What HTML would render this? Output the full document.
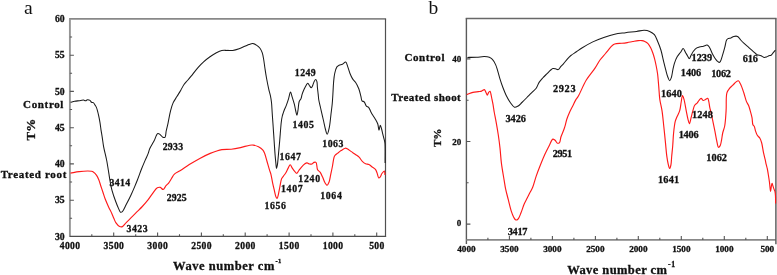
<!DOCTYPE html>
<html><head><meta charset="utf-8"><title>FTIR spectra</title>
<style>html,body{margin:0;padding:0;background:#fff;}body{width:777px;height:275px;overflow:hidden;}svg{display:block;will-change:transform;}</style>
</head><body>
<svg width="777" height="275" viewBox="0 0 777 275">
<rect width="100%" height="100%" fill="#fff"/>
<line x1="69.10000000000001" y1="18.9" x2="386.1" y2="18.9" stroke="#888" stroke-width="1.7"/>
<line x1="69.9" y1="18.9" x2="69.9" y2="237.0" stroke="#959595" stroke-width="1.9"/>
<line x1="69.9" y1="236.4" x2="386.1" y2="236.4" stroke="#4d4d4d" stroke-width="1.3"/>
<line x1="385.5" y1="18.9" x2="385.5" y2="237.0" stroke="#505050" stroke-width="1.2"/>
<path d="M69.9,218.3h2.2 M69.9,200.2h4.0 M69.9,182.0h2.2 M69.9,163.9h4.0 M69.9,145.8h2.2 M69.9,127.7h4.0 M69.9,109.5h2.2 M69.9,91.4h4.0 M69.9,73.3h2.2 M69.9,55.2h4.0 M69.9,37.0h2.2 M376.7,236.4v-4.0 M354.8,236.4v-2.2 M332.9,236.4v-4.0 M311.0,236.4v-2.2 M289.1,236.4v-4.0 M267.1,236.4v-2.2 M245.2,236.4v-4.0 M223.3,236.4v-2.2 M201.4,236.4v-4.0 M179.5,236.4v-2.2 M157.6,236.4v-4.0 M135.7,236.4v-2.2 M113.7,236.4v-4.0 M91.8,236.4v-2.2" stroke="#555" stroke-width="1.1" fill="none"/>
<line x1="465.7" y1="18.4" x2="776.6" y2="18.4" stroke="#686868" stroke-width="1.5"/>
<line x1="466.4" y1="18.4" x2="466.4" y2="244.0" stroke="#5a5a5a" stroke-width="1.4"/>
<line x1="466.4" y1="239.9" x2="775.9" y2="239.9" stroke="#888" stroke-width="1.8"/>
<line x1="775.9" y1="18.4" x2="775.9" y2="244.2" stroke="#555" stroke-width="1.4"/>
<path d="M466.4,224.1h4.0 M466.4,182.8h2.2 M466.4,141.5h4.0 M466.4,100.2h2.2 M466.4,58.9h4.0 M767.3,239.9v-4.0 M745.8,239.9v-2.2 M724.3,239.9v-4.0 M702.8,239.9v-2.2 M681.3,239.9v-4.0 M659.8,239.9v-2.2 M638.3,239.9v-4.0 M616.9,239.9v-2.2 M595.4,239.9v-4.0 M573.9,239.9v-2.2 M552.4,239.9v-4.0 M530.9,239.9v-2.2 M509.4,239.9v-4.0 M487.9,239.9v-2.2" stroke="#555" stroke-width="1.1" fill="none"/>
<path d="M70.50,173.10C73.37,172.60 76.22,171.95 79.10,171.60C81.98,171.25 85.51,170.99 87.80,171.00C89.29,171.01 90.50,171.07 91.50,171.30C92.22,171.47 92.66,171.58 93.30,172.00C94.30,172.65 95.69,174.04 96.60,175.30C97.53,176.60 98.13,178.06 98.80,179.70C99.59,181.63 100.18,184.04 100.90,186.20C101.62,188.37 102.37,190.52 103.10,192.70C103.84,194.89 104.44,197.04 105.30,199.30C106.24,201.76 107.48,204.47 108.60,206.90C109.65,209.19 110.88,211.48 111.80,213.50C112.57,215.19 113.12,216.66 113.80,218.20C114.46,219.69 114.87,221.26 115.80,222.60C116.78,224.01 118.32,225.82 119.60,226.40C120.53,226.82 121.48,226.96 122.40,226.60C123.69,226.10 124.86,223.98 126.20,222.60C127.67,221.09 129.26,219.54 130.90,217.90C132.71,216.09 134.70,214.10 136.60,212.20C138.50,210.30 140.44,208.51 142.30,206.50C144.24,204.41 146.24,202.14 148.00,199.90C149.70,197.74 151.10,195.37 152.70,193.30C154.20,191.35 155.76,188.65 157.30,187.80C158.30,187.25 159.36,187.16 160.30,187.40C161.31,187.66 162.22,189.62 163.10,189.50C164.13,189.36 165.01,186.86 166.00,185.70C166.91,184.64 167.93,183.91 168.80,182.80C169.78,181.55 170.57,179.93 171.50,178.50C172.44,177.06 173.11,175.43 174.40,174.20C175.85,172.81 177.91,172.13 180.00,170.80C182.73,169.07 186.08,166.62 189.30,164.60C192.67,162.49 196.27,160.29 199.80,158.40C203.24,156.56 207.21,154.68 210.20,153.40C212.39,152.46 214.04,151.83 216.00,151.20C217.94,150.57 219.69,149.94 221.90,149.60C224.63,149.18 228.11,149.53 231.20,149.20C234.31,148.87 237.41,148.26 240.50,147.60C243.61,146.93 247.43,145.54 249.80,145.20C251.23,145.00 252.04,144.92 253.30,145.10C254.88,145.33 256.92,145.98 258.50,146.80C260.04,147.60 261.67,148.75 262.70,149.90C263.55,150.85 263.93,151.68 264.50,153.00C265.37,155.01 266.10,158.28 266.90,161.00C267.73,163.84 268.64,167.22 269.40,169.70C269.97,171.57 270.52,172.74 271.00,174.60C271.61,176.97 272.04,180.14 272.60,182.80C273.14,185.33 273.73,187.82 274.30,190.20C274.83,192.44 275.25,195.27 275.90,196.70C276.26,197.50 276.74,198.46 277.10,198.40C277.62,198.32 277.99,195.92 278.40,194.30C278.97,192.05 279.45,188.76 280.00,186.10C280.52,183.57 280.84,180.44 281.60,178.70C282.08,177.62 282.68,177.16 283.30,176.30C284.03,175.29 284.94,174.24 285.70,173.00C286.58,171.56 287.39,169.56 288.20,168.10C288.88,166.88 289.52,164.81 290.20,164.80C290.89,164.79 291.56,167.01 292.30,168.10C293.06,169.21 293.89,170.48 294.70,171.40C295.36,172.16 296.05,173.35 296.70,173.30C297.43,173.24 298.06,171.46 298.80,170.50C299.59,169.47 300.37,168.35 301.30,167.30C302.29,166.18 303.52,164.75 304.60,164.00C305.41,163.44 306.19,162.91 307.00,162.90C307.82,162.89 308.66,163.82 309.50,164.00C310.29,164.17 311.16,164.25 311.90,164.00C312.67,163.74 313.26,162.65 314.00,162.40C314.64,162.18 315.47,161.97 316.00,162.40C317.03,163.23 316.66,167.99 317.60,169.70C318.24,170.88 319.34,171.15 320.10,172.20C321.05,173.50 321.80,175.39 322.60,177.10C323.44,178.91 324.11,181.34 325.00,182.80C325.65,183.86 326.44,185.35 327.10,185.30C327.82,185.24 328.55,183.38 329.10,182.00C329.87,180.07 330.16,177.12 330.70,174.60C331.26,171.96 331.86,169.28 332.40,166.50C332.97,163.58 333.41,159.40 334.00,157.50C334.29,156.57 334.41,156.14 334.90,155.50C335.54,154.66 336.79,153.90 337.80,153.10C338.86,152.26 339.92,151.39 341.10,150.60C342.37,149.75 343.99,148.33 345.20,148.20C346.08,148.11 346.77,148.57 347.60,149.00C348.65,149.54 349.68,150.55 350.90,151.40C352.36,152.42 354.34,153.66 355.80,154.70C357.02,155.57 358.07,156.18 359.10,157.20C360.25,158.34 361.14,160.18 362.30,161.30C363.33,162.29 364.44,163.17 365.60,163.70C366.65,164.19 367.86,164.00 368.90,164.50C370.04,165.05 371.02,166.18 372.10,167.00C373.18,167.82 374.58,168.42 375.40,169.40C376.18,170.33 376.50,171.46 377.00,172.70C377.61,174.22 377.93,177.64 378.70,177.90C379.16,178.06 379.83,177.35 380.30,176.80C380.95,176.05 381.20,174.46 381.90,173.50C382.58,172.57 383.88,170.92 384.40,171.10C384.96,171.29 384.80,173.70 385.00,175.00" fill="none" stroke="#ff1a1a" stroke-width="1.15" stroke-linejoin="round"/>
<path d="M70.50,102.20C71.90,101.90 73.28,101.55 74.70,101.30C76.14,101.05 77.63,100.90 79.10,100.70C80.57,100.50 82.31,99.99 83.50,100.10C84.34,100.18 84.93,100.87 85.60,100.80C86.27,100.73 86.80,99.79 87.50,99.70C88.26,99.60 89.33,99.95 90.00,100.40C90.65,100.83 90.90,101.94 91.50,102.30C92.02,102.61 92.76,102.26 93.30,102.60C94.00,103.04 94.56,104.25 95.10,105.10C95.62,105.92 96.05,106.50 96.50,107.60C97.25,109.43 98.01,112.76 98.60,115.30C99.17,117.75 99.60,120.17 100.00,122.60C100.40,125.00 100.64,127.39 101.00,129.80C101.37,132.23 101.80,134.50 102.20,137.10C102.66,140.06 102.97,143.17 103.60,146.60C104.36,150.70 105.73,155.55 106.60,160.00C107.46,164.38 108.20,169.43 108.80,173.10C109.24,175.76 109.44,177.47 109.90,180.00C110.46,183.12 111.06,186.88 112.00,190.40C113.00,194.14 114.57,198.51 115.80,201.80C116.76,204.38 117.71,206.71 118.60,208.60C119.26,210.01 119.71,211.87 120.50,212.20C121.06,212.43 121.77,212.12 122.40,211.60C123.67,210.56 124.89,207.12 126.20,204.60C127.71,201.71 129.45,198.28 130.90,195.20C132.27,192.29 133.56,189.28 134.70,186.60C135.69,184.26 136.42,182.50 137.40,180.00C138.67,176.77 140.19,172.35 141.60,168.80C142.89,165.54 144.31,162.27 145.50,159.50C146.47,157.25 147.47,155.31 148.20,153.40C148.82,151.78 148.96,150.49 149.70,148.80C150.70,146.52 152.64,143.67 154.00,141.10C155.34,138.57 156.40,133.97 157.80,133.50C158.62,133.23 159.59,134.21 160.40,134.80C161.30,135.45 162.02,136.94 162.90,137.30C163.57,137.58 164.47,137.74 165.00,137.30C165.92,136.54 165.73,133.20 166.20,131.00C166.72,128.56 167.37,126.19 168.00,123.30C168.81,119.60 169.63,114.28 170.60,110.60C171.37,107.69 172.01,105.28 173.10,102.90C174.14,100.63 175.62,98.71 176.90,96.60C178.19,94.47 179.58,92.28 180.80,90.20C181.94,88.26 182.81,86.18 184.00,84.50C185.07,82.99 186.35,81.85 187.50,80.50C188.65,79.15 189.56,78.04 190.90,76.40C192.88,73.97 195.89,69.90 198.20,67.30C200.08,65.18 201.67,63.54 203.60,61.80C205.59,60.00 207.82,58.24 210.00,56.70C212.09,55.22 214.31,53.77 216.40,52.70C218.24,51.76 219.96,50.88 221.80,50.50C223.59,50.13 225.48,50.42 227.30,50.40C229.11,50.38 230.84,50.64 232.70,50.40C234.76,50.13 236.99,49.42 239.10,48.70C241.26,47.96 243.67,46.77 245.50,46.00C246.87,45.43 247.88,44.90 249.10,44.50C250.29,44.11 251.51,43.52 252.70,43.60C253.94,43.69 255.23,44.39 256.40,45.10C257.68,45.88 259.04,46.96 260.00,48.20C260.99,49.48 261.62,51.04 262.20,52.70C262.86,54.59 263.18,56.70 263.60,59.00C264.10,61.72 264.43,64.92 264.90,68.00C265.39,71.25 265.87,74.54 266.50,78.00C267.19,81.78 268.15,86.57 268.90,89.80C269.43,92.08 269.98,93.57 270.40,95.60C270.86,97.79 271.21,99.95 271.50,102.50C271.85,105.63 271.96,109.44 272.20,113.00C272.45,116.70 272.71,120.11 273.00,124.30C273.36,129.54 273.83,136.55 274.20,142.00C274.52,146.67 274.78,151.13 275.10,155.00C275.36,158.13 275.64,161.06 275.90,163.50C276.10,165.36 276.22,168.38 276.50,168.40C276.72,168.42 277.06,166.78 277.30,165.50C277.75,163.10 278.03,158.77 278.40,155.00C278.83,150.60 279.25,145.79 279.70,140.70C280.21,134.88 280.73,126.50 281.30,122.00C281.62,119.44 281.91,117.63 282.30,116.00C282.57,114.85 282.88,114.06 283.20,113.10C283.52,112.13 283.78,111.29 284.20,110.20C284.77,108.73 285.70,106.92 286.40,105.10C287.18,103.08 287.92,100.78 288.60,98.60C289.28,96.42 289.86,92.01 290.50,92.00C291.06,91.99 291.61,95.24 292.20,97.10C292.90,99.31 293.78,101.95 294.40,104.40C295.01,106.82 295.42,109.70 295.90,111.70C296.24,113.12 296.58,115.31 296.90,115.30C297.28,115.29 297.66,112.13 298.00,110.20C298.44,107.69 298.45,103.57 299.20,101.50C299.67,100.21 300.53,99.70 301.00,98.60C301.53,97.36 301.63,95.85 302.10,94.40C302.63,92.77 303.38,90.89 304.10,89.30C304.76,87.84 305.51,86.30 306.20,85.20C306.71,84.39 307.20,83.20 307.70,83.20C308.20,83.20 308.65,84.49 309.20,85.20C309.83,86.02 310.69,87.85 311.30,87.80C311.88,87.75 312.34,86.18 312.80,85.20C313.35,84.03 313.68,82.19 314.30,81.20C314.74,80.49 315.37,79.54 315.80,79.60C316.24,79.66 316.64,80.80 316.90,81.70C317.31,83.09 317.20,85.32 317.40,87.30C317.62,89.53 317.96,92.17 318.20,94.40C318.42,96.38 318.47,97.98 318.80,100.00C319.20,102.44 320.03,105.46 320.60,108.00C321.12,110.31 321.59,112.38 322.10,114.60C322.62,116.88 323.15,119.11 323.70,121.50C324.29,124.07 324.83,127.20 325.50,129.50C326.02,131.29 326.62,134.22 327.20,134.20C327.91,134.18 328.81,129.71 329.40,126.90C330.17,123.24 330.51,118.03 331.00,114.00C331.43,110.46 331.88,107.34 332.20,104.00C332.52,100.67 332.68,97.47 332.90,94.00C333.14,90.23 333.26,85.83 333.60,82.20C333.89,79.07 334.09,76.17 334.70,73.50C335.24,71.12 335.91,68.30 336.90,66.90C337.53,66.01 338.24,65.63 339.10,65.20C340.05,64.73 341.34,64.78 342.40,64.30C343.54,63.78 344.83,61.84 345.70,62.10C346.70,62.39 347.13,65.16 347.80,66.90C348.57,68.91 349.16,71.44 350.00,73.50C350.78,75.42 351.59,77.38 352.60,78.90C353.46,80.20 354.58,80.84 355.50,82.20C356.69,83.96 357.91,86.48 358.80,88.80C359.72,91.20 360.32,94.21 360.90,96.40C361.34,98.06 361.27,99.89 362.00,100.80C362.54,101.47 363.55,101.26 364.20,101.90C365.11,102.80 365.49,105.30 366.40,106.20C367.05,106.84 367.96,106.66 368.60,107.30C369.51,108.21 370.08,110.34 370.80,111.70C371.44,112.91 372.00,113.95 372.70,115.10C373.46,116.34 374.40,117.52 375.20,118.90C376.10,120.45 377.17,122.16 377.80,124.00C378.47,125.95 378.56,130.29 379.00,130.30C379.40,130.31 379.83,125.22 380.30,125.20C380.71,125.18 381.21,127.63 381.60,129.00C382.05,130.56 382.38,132.40 382.80,134.10C383.22,135.80 383.73,137.62 384.10,139.20C384.42,140.56 384.71,141.22 384.90,143.00C385.34,147.03 385.03,156.33 385.10,163.00" fill="none" stroke="#1a1a1a" stroke-width="1.05" stroke-linejoin="round"/>
<path d="M466.70,94.60C468.77,93.87 470.87,92.90 472.90,92.40C474.77,91.94 476.81,91.84 478.40,91.60C479.61,91.42 480.60,91.44 481.60,91.10C482.59,90.77 483.67,89.39 484.40,89.60C485.14,89.81 485.51,91.47 486.00,92.40C486.47,93.30 486.85,95.09 487.30,95.10C487.75,95.11 488.15,93.06 488.70,92.40C489.12,91.89 489.75,91.19 490.10,91.30C490.55,91.44 490.64,92.94 490.90,94.00C491.27,95.48 491.63,97.59 492.00,99.40C492.37,101.22 492.75,102.95 493.10,104.90C493.49,107.11 493.76,109.44 494.20,112.00C494.73,115.03 495.46,118.37 496.10,121.90C496.83,125.96 497.65,130.63 498.30,135.00C498.95,139.36 499.50,143.58 500.00,148.10C500.54,152.93 500.74,157.92 501.40,163.10C502.11,168.72 503.42,175.86 504.20,180.60C504.74,183.85 504.99,185.88 505.60,188.80C506.31,192.19 507.38,196.07 508.30,199.70C509.22,203.34 510.08,207.45 511.10,210.60C511.91,213.10 512.73,215.52 513.70,217.20C514.38,218.39 515.08,219.80 515.90,220.00C516.57,220.16 517.43,219.67 518.10,219.00C519.23,217.88 520.06,215.06 521.00,212.80C522.10,210.17 523.07,206.70 524.20,204.10C525.16,201.89 526.25,200.01 527.20,198.10C528.07,196.36 528.83,194.83 529.70,193.10C530.65,191.21 531.75,189.52 532.70,187.20C533.96,184.12 534.91,179.82 536.20,176.10C537.53,172.26 539.11,168.23 540.60,164.50C542.01,160.98 543.40,157.55 544.90,154.30C546.31,151.23 547.89,148.19 549.30,145.50C550.51,143.19 551.56,139.48 552.80,139.10C553.54,138.88 554.38,139.72 555.10,140.30C555.97,141.00 556.65,142.94 557.50,143.20C558.14,143.39 558.97,143.15 559.50,142.60C560.40,141.67 560.34,138.82 561.00,136.80C561.76,134.48 563.14,131.64 563.90,129.50C564.49,127.86 564.85,126.67 565.30,125.10C565.82,123.31 566.14,121.32 566.80,119.30C567.56,116.98 568.68,114.27 569.70,112.00C570.62,109.93 571.63,108.13 572.60,106.20C573.57,104.27 574.48,102.17 575.50,100.40C576.42,98.80 577.27,97.97 578.40,96.00C580.48,92.37 583.37,84.83 586.30,80.00C588.96,75.61 592.56,71.73 595.00,68.10C596.96,65.18 598.19,62.49 600.00,60.00C601.71,57.65 603.68,55.68 605.50,53.50C607.32,51.32 609.36,48.54 610.90,46.90C611.91,45.82 612.62,44.95 613.60,44.40C614.47,43.91 615.30,43.78 616.40,43.60C617.90,43.35 619.99,43.46 621.80,43.30C623.63,43.13 625.47,42.90 627.30,42.60C629.14,42.30 630.97,41.83 632.80,41.50C634.61,41.17 636.55,40.74 638.20,40.60C639.57,40.49 640.84,40.42 642.00,40.60C643.02,40.76 643.87,41.05 644.80,41.50C645.87,42.01 647.06,42.64 648.00,43.60C649.10,44.72 649.99,46.41 650.80,48.00C651.67,49.69 652.36,51.66 653.00,53.50C653.62,55.29 654.10,56.97 654.60,58.90C655.17,61.10 655.71,63.56 656.20,66.00C656.72,68.58 657.21,71.06 657.60,74.00C658.08,77.59 658.34,81.89 658.70,86.00C659.08,90.34 659.21,95.15 659.80,99.40C660.34,103.32 661.37,106.53 662.00,110.60C662.75,115.42 663.21,121.06 663.80,126.50C664.42,132.22 665.06,138.78 665.60,144.10C666.04,148.51 666.30,152.60 666.80,156.20C667.20,159.12 667.65,161.86 668.20,164.10C668.62,165.80 669.13,168.49 669.60,168.50C670.03,168.51 670.57,166.46 670.90,165.00C671.41,162.76 671.41,159.24 671.70,156.20C672.01,152.92 672.40,149.61 672.70,146.00C673.04,141.93 673.15,137.22 673.60,133.00C674.03,128.96 674.53,124.15 675.30,121.20C675.79,119.34 676.35,118.38 677.00,116.80C677.78,114.90 679.02,112.88 679.70,110.60C680.48,108.01 680.70,104.66 681.20,102.00C681.63,99.68 681.96,95.55 682.50,95.50C682.93,95.46 683.52,97.74 684.00,99.40C684.79,102.15 685.50,107.09 686.20,110.60C686.82,113.71 687.37,116.98 688.00,119.40C688.45,121.13 688.93,123.81 689.40,123.80C689.96,123.79 690.53,119.73 691.10,117.60C691.70,115.34 692.26,112.76 692.90,110.60C693.47,108.70 693.83,106.66 694.70,105.30C695.40,104.21 696.57,103.65 697.30,102.80C697.94,102.05 698.29,101.23 698.90,100.50C699.55,99.73 700.37,98.30 701.10,98.30C701.83,98.30 702.52,100.37 703.30,100.50C704.00,100.61 704.77,99.77 705.50,99.40C706.23,99.03 707.16,98.08 707.70,98.30C708.34,98.57 708.49,100.35 708.80,101.60C709.19,103.19 709.31,105.16 709.70,107.10C710.15,109.30 710.85,111.63 711.40,114.10C712.02,116.86 712.60,119.97 713.20,122.90C713.80,125.83 714.42,128.76 715.00,131.70C715.58,134.66 716.07,137.85 716.70,140.60C717.25,143.00 717.67,147.08 718.50,147.30C718.99,147.43 719.74,146.41 720.20,145.60C720.89,144.38 721.11,142.22 721.50,140.30C721.96,138.07 722.16,135.39 722.70,133.00C723.23,130.63 724.17,128.82 724.70,126.00C725.47,121.89 725.74,115.92 726.10,110.60C726.49,104.89 725.75,96.65 726.90,92.80C727.51,90.74 728.48,89.69 729.50,88.40C730.46,87.18 731.70,86.28 732.80,85.20C733.90,84.11 735.05,82.66 736.10,81.90C736.86,81.35 737.64,80.62 738.30,80.80C739.14,81.02 739.77,82.69 740.50,84.10C741.61,86.26 742.80,89.88 743.80,92.80C744.80,95.71 745.55,99.33 746.50,101.60C747.14,103.14 747.91,103.93 748.50,105.30C749.17,106.88 749.65,108.70 750.20,110.60C750.82,112.76 751.55,115.24 752.00,117.60C752.45,119.94 752.26,123.17 752.90,124.70C753.26,125.57 753.91,125.72 754.30,126.50C754.85,127.60 755.01,129.45 755.50,130.90C756.00,132.38 756.51,134.04 757.30,135.30C758.01,136.44 759.19,137.03 759.90,138.20C760.71,139.54 761.17,141.10 761.70,143.00C762.43,145.63 762.87,149.65 763.50,152.60C764.04,155.15 764.72,157.57 765.20,159.70C765.59,161.42 765.84,162.87 766.20,164.40C766.54,165.87 766.97,167.15 767.30,168.70C767.68,170.48 767.97,172.45 768.30,174.50C768.67,176.79 769.08,179.36 769.40,181.80C769.72,184.23 769.95,187.38 770.20,189.10C770.34,190.05 770.45,191.30 770.60,191.30C770.83,191.30 771.10,187.47 771.40,186.00C771.62,184.94 771.86,183.31 772.10,183.30C772.30,183.29 772.47,184.39 772.70,185.10C773.03,186.13 773.48,187.76 773.90,188.90C774.25,189.86 774.74,190.46 775.00,191.50C775.35,192.89 775.40,194.76 775.50,196.60C775.62,198.75 775.57,201.27 775.60,203.60" fill="none" stroke="#ff1a1a" stroke-width="1.15" stroke-linejoin="round"/>
<path d="M467.40,57.40C470.47,57.37 473.68,57.45 476.60,57.30C479.26,57.16 481.92,56.55 484.20,56.60C486.07,56.64 487.86,56.75 489.30,57.30C490.53,57.77 491.45,58.41 492.40,59.40C493.61,60.66 494.73,62.73 495.60,64.60C496.51,66.55 497.02,68.71 497.70,70.90C498.43,73.26 498.99,75.69 499.80,78.30C500.72,81.28 501.89,84.85 503.00,87.80C504.00,90.44 504.90,92.78 506.10,95.20C507.33,97.68 508.78,100.40 510.30,102.50C511.61,104.32 513.06,106.78 514.50,107.20C515.55,107.50 516.63,106.89 517.70,106.30C519.10,105.53 520.38,103.95 521.90,102.50C523.81,100.68 526.30,98.12 528.20,96.20C529.77,94.61 531.11,93.18 532.50,91.80C533.77,90.53 535.14,89.65 536.20,88.20C537.39,86.58 537.97,84.14 539.10,82.40C540.16,80.77 541.40,79.44 542.70,78.00C544.06,76.50 545.71,74.99 547.10,73.60C548.36,72.34 549.60,70.88 550.70,70.00C551.49,69.37 552.10,68.80 552.90,68.60C553.70,68.40 554.63,68.64 555.50,68.80C556.40,68.97 557.37,69.85 558.20,69.60C559.21,69.30 559.98,67.42 560.90,66.40C561.78,65.42 562.65,64.66 563.60,63.60C564.76,62.30 566.04,60.49 567.30,59.10C568.48,57.80 569.51,56.64 570.90,55.50C572.49,54.19 574.57,53.05 576.40,51.80C578.24,50.55 579.72,49.36 581.90,48.00C584.88,46.14 589.10,43.67 592.80,41.90C596.40,40.18 600.11,38.79 603.80,37.50C607.41,36.23 611.03,35.00 614.70,34.20C618.30,33.41 621.96,33.17 625.60,32.70C629.26,32.23 633.27,31.84 636.60,31.40C639.37,31.04 641.88,30.24 644.20,30.30C646.19,30.35 648.01,30.68 649.70,31.40C651.41,32.13 653.13,33.20 654.40,34.70C655.84,36.39 656.58,38.92 657.60,41.30C658.75,43.98 659.95,46.90 660.90,50.00C661.94,53.40 662.66,57.46 663.50,60.90C664.26,63.99 664.94,66.88 665.70,69.70C666.41,72.33 667.10,75.28 667.90,77.30C668.47,78.72 669.12,80.81 669.70,80.80C670.28,80.79 670.92,78.73 671.40,77.30C672.08,75.29 672.36,72.14 672.90,69.70C673.40,67.42 673.78,65.26 674.50,63.10C675.24,60.89 676.20,58.50 677.30,56.60C678.27,54.93 679.57,53.60 680.60,52.20C681.52,50.94 682.39,48.57 683.20,48.60C683.99,48.63 684.67,50.98 685.40,52.20C686.14,53.45 686.90,54.86 687.60,56.00C688.19,56.96 688.75,58.63 689.30,58.60C689.92,58.57 690.45,56.36 691.10,55.20C691.81,53.94 692.47,52.50 693.40,51.30C694.36,50.06 695.58,48.65 696.80,47.90C697.84,47.26 698.98,47.08 700.10,46.80C701.21,46.52 702.38,46.48 703.50,46.20C704.64,45.92 705.98,44.98 706.90,45.10C707.59,45.19 708.09,45.67 708.60,46.20C709.25,46.87 709.73,47.90 710.30,49.00C711.04,50.43 711.71,52.54 712.50,54.10C713.22,55.51 714.00,56.83 714.80,58.00C715.51,59.04 716.23,60.02 717.00,60.80C717.67,61.48 718.49,62.51 719.10,62.50C719.59,62.49 719.99,62.01 720.40,61.40C721.25,60.15 721.97,56.95 722.70,54.60C723.48,52.10 724.23,49.32 724.90,46.80C725.52,44.46 725.83,41.36 726.60,40.00C727.01,39.28 727.39,38.94 728.00,38.60C728.73,38.19 729.87,38.24 730.80,37.90C731.80,37.53 732.71,36.66 733.80,36.40C734.96,36.13 736.50,35.89 737.60,36.40C738.84,36.97 739.62,38.84 740.70,40.00C741.79,41.17 742.87,42.25 744.10,43.40C745.47,44.68 747.10,45.99 748.60,47.30C750.10,48.62 751.65,50.04 753.10,51.30C754.44,52.46 755.61,53.85 757.00,54.60C758.26,55.28 759.74,55.30 761.00,55.80C762.20,56.28 763.37,57.40 764.40,57.50C765.20,57.58 765.87,57.17 766.60,56.90C767.37,56.61 768.13,56.09 768.90,55.80C769.63,55.53 770.42,55.64 771.10,55.20C771.95,54.65 772.65,53.28 773.40,52.40C774.08,51.59 774.73,50.87 775.40,50.10" fill="none" stroke="#1a1a1a" stroke-width="1.05" stroke-linejoin="round"/>
<text x="24.1" y="14.3" font-size="19.6" font-weight="normal" text-anchor="start" fill="#111" style="font-family:'Liberation Serif',serif" id="L0">a</text>
<text x="428.4" y="14.3" font-size="19.5" font-weight="normal" text-anchor="start" fill="#111" style="font-family:'Liberation Serif',serif" id="L1">b</text>
<text x="23.07" y="107.8" font-size="11" font-weight="bold" text-anchor="start" letter-spacing="0.65" fill="#111" stroke="#111" stroke-width="0.3" style="font-family:'Liberation Serif',serif" id="L2">Control</text>
<text x="0.7" y="178.23" font-size="11" font-weight="bold" text-anchor="start" letter-spacing="0.66" fill="#111" stroke="#111" stroke-width="0.3" style="font-family:'Liberation Serif',serif" id="L3">Treated root</text>
<text x="404.45" y="61.4" font-size="11" font-weight="bold" text-anchor="start" letter-spacing="0.6" fill="#111" stroke="#111" stroke-width="0.3" style="font-family:'Liberation Serif',serif" id="L4">Control</text>
<text x="391.3" y="100.55" font-size="11" font-weight="bold" text-anchor="start" letter-spacing="0.45" fill="#111" stroke="#111" stroke-width="0.3" style="font-family:'Liberation Serif',serif" id="L5">Treated shoot</text>
<text x="173.1" y="270.45" font-size="12.5" font-weight="bold" text-anchor="start" letter-spacing="0.538" fill="#111" stroke="#111" stroke-width="0.3" style="font-family:'Liberation Serif',serif" id="L6">Wave number cm</text>
<text x="275.4" y="263.0" font-size="6.5" font-weight="bold" text-anchor="start" letter-spacing="0.5" fill="#111" stroke="#111" stroke-width="0.3" style="font-family:'Liberation Serif',serif" id="L7">-1</text>
<text x="567.18" y="274.2" font-size="12.5" font-weight="bold" text-anchor="start" letter-spacing="0.423" fill="#111" stroke="#111" stroke-width="0.3" style="font-family:'Liberation Serif',serif" id="L8">Wave number cm</text>
<text x="668.0" y="267.2" font-size="7.8" font-weight="bold" text-anchor="start" letter-spacing="0.6" fill="#111" stroke="#111" stroke-width="0.3" style="font-family:'Liberation Serif',serif" id="L9">-1</text>
<text x="109.38" y="186.45" font-size="9.8" font-weight="bold" text-anchor="start" letter-spacing="0.4" fill="#111" stroke="#111" stroke-width="0.3" style="font-family:'Liberation Serif',serif" id="L10">3414</text>
<text x="126.55" y="232.15" font-size="9.8" font-weight="bold" text-anchor="start" letter-spacing="0.5" fill="#111" stroke="#111" stroke-width="0.3" style="font-family:'Liberation Serif',serif" id="L11">3423</text>
<text x="162.65" y="150.0" font-size="9.8" font-weight="bold" text-anchor="start" letter-spacing="0.3" fill="#111" stroke="#111" stroke-width="0.3" style="font-family:'Liberation Serif',serif" id="L12">2933</text>
<text x="166.8" y="201.4" font-size="9.8" font-weight="bold" text-anchor="start" letter-spacing="0.1" fill="#111" stroke="#111" stroke-width="0.3" style="font-family:'Liberation Serif',serif" id="L13">2925</text>
<text x="294.87" y="75.6" font-size="9.8" font-weight="bold" text-anchor="start" letter-spacing="0.4" fill="#111" stroke="#111" stroke-width="0.3" style="font-family:'Liberation Serif',serif" id="L14">1249</text>
<text x="292.58" y="127.55" font-size="9.8" font-weight="bold" text-anchor="start" letter-spacing="0.6" fill="#111" stroke="#111" stroke-width="0.3" style="font-family:'Liberation Serif',serif" id="L15">1405</text>
<text x="322.25" y="146.6" font-size="9.8" font-weight="bold" text-anchor="start" letter-spacing="0.5" fill="#111" stroke="#111" stroke-width="0.3" style="font-family:'Liberation Serif',serif" id="L16">1063</text>
<text x="279.62" y="160.4" font-size="9.8" font-weight="bold" text-anchor="start" letter-spacing="0.6" fill="#111" stroke="#111" stroke-width="0.3" style="font-family:'Liberation Serif',serif" id="L17">1647</text>
<text x="298.35" y="181.65" font-size="9.8" font-weight="bold" text-anchor="start" letter-spacing="0.7" fill="#111" stroke="#111" stroke-width="0.3" style="font-family:'Liberation Serif',serif" id="L18">1240</text>
<text x="280.95" y="192.0" font-size="9.8" font-weight="bold" text-anchor="start" letter-spacing="0.7" fill="#111" stroke="#111" stroke-width="0.3" style="font-family:'Liberation Serif',serif" id="L19">1407</text>
<text x="320.15" y="198.6" font-size="9.8" font-weight="bold" text-anchor="start" letter-spacing="0.7" fill="#111" stroke="#111" stroke-width="0.3" style="font-family:'Liberation Serif',serif" id="L20">1064</text>
<text x="264.43" y="209.4" font-size="9.8" font-weight="bold" text-anchor="start" letter-spacing="0.6" fill="#111" stroke="#111" stroke-width="0.3" style="font-family:'Liberation Serif',serif" id="L21">1656</text>
<text x="505.4" y="121.55" font-size="10.3" font-weight="bold" text-anchor="start" fill="#111" stroke="#111" stroke-width="0.3" style="font-family:'Liberation Serif',serif" id="L22">3426</text>
<text x="552.92" y="91.55" font-size="10.3" font-weight="bold" text-anchor="start" letter-spacing="0.7" fill="#111" stroke="#111" stroke-width="0.3" style="font-family:'Liberation Serif',serif" id="L23">2923</text>
<text x="661.07" y="96.6" font-size="10.3" font-weight="bold" text-anchor="start" letter-spacing="0.1" fill="#111" stroke="#111" stroke-width="0.3" style="font-family:'Liberation Serif',serif" id="L24">1640</text>
<text x="680.83" y="75.65" font-size="10.3" font-weight="bold" text-anchor="start" letter-spacing="-0.1" fill="#111" stroke="#111" stroke-width="0.3" style="font-family:'Liberation Serif',serif" id="L25">1406</text>
<text x="691.55" y="61.15" font-size="10.3" font-weight="bold" text-anchor="start" fill="#111" stroke="#111" stroke-width="0.3" style="font-family:'Liberation Serif',serif" id="L26">1239</text>
<text x="711.27" y="77.2" font-size="10.3" font-weight="bold" text-anchor="start" letter-spacing="-0.3" fill="#111" stroke="#111" stroke-width="0.3" style="font-family:'Liberation Serif',serif" id="L27">1062</text>
<text x="742.65" y="62.0" font-size="10.3" font-weight="bold" text-anchor="start" letter-spacing="-0.1" fill="#111" stroke="#111" stroke-width="0.3" style="font-family:'Liberation Serif',serif" id="L28">616</text>
<text x="507.77" y="235.45" font-size="10.3" font-weight="bold" text-anchor="start" letter-spacing="-0.3" fill="#111" stroke="#111" stroke-width="0.3" style="font-family:'Liberation Serif',serif" id="L29">3417</text>
<text x="552.65" y="157.15" font-size="10.3" font-weight="bold" text-anchor="start" letter-spacing="-0.4" fill="#111" stroke="#111" stroke-width="0.3" style="font-family:'Liberation Serif',serif" id="L30">2951</text>
<text x="658.0" y="182.65" font-size="10.3" font-weight="bold" text-anchor="start" letter-spacing="0.2" fill="#111" stroke="#111" stroke-width="0.3" style="font-family:'Liberation Serif',serif" id="L31">1641</text>
<text x="678.65" y="138.4" font-size="10.3" font-weight="bold" text-anchor="start" letter-spacing="-0.2" fill="#111" stroke="#111" stroke-width="0.3" style="font-family:'Liberation Serif',serif" id="L32">1406</text>
<text x="692.12" y="118.15" font-size="10.3" font-weight="bold" text-anchor="start" letter-spacing="0.1" fill="#111" stroke="#111" stroke-width="0.3" style="font-family:'Liberation Serif',serif" id="L33">1248</text>
<text x="706.35" y="161.15" font-size="10.3" font-weight="bold" text-anchor="start" fill="#111" stroke="#111" stroke-width="0.3" style="font-family:'Liberation Serif',serif" id="L34">1062</text>
<text x="64.6" y="22.000000000000007" font-size="9.7" font-weight="bold" text-anchor="end" fill="#111" stroke="#111" stroke-width="0.3" style="font-family:'Liberation Serif',serif" >60</text>
<text x="64.6" y="58.25000000000001" font-size="9.7" font-weight="bold" text-anchor="end" fill="#111" stroke="#111" stroke-width="0.3" style="font-family:'Liberation Serif',serif" >55</text>
<text x="64.6" y="94.5" font-size="9.7" font-weight="bold" text-anchor="end" fill="#111" stroke="#111" stroke-width="0.3" style="font-family:'Liberation Serif',serif" >50</text>
<text x="64.6" y="130.75" font-size="9.7" font-weight="bold" text-anchor="end" fill="#111" stroke="#111" stroke-width="0.3" style="font-family:'Liberation Serif',serif" >45</text>
<text x="64.6" y="167.0" font-size="9.7" font-weight="bold" text-anchor="end" fill="#111" stroke="#111" stroke-width="0.3" style="font-family:'Liberation Serif',serif" >40</text>
<text x="64.6" y="203.25" font-size="9.7" font-weight="bold" text-anchor="end" fill="#111" stroke="#111" stroke-width="0.3" style="font-family:'Liberation Serif',serif" >35</text>
<text x="64.6" y="239.5" font-size="9.7" font-weight="bold" text-anchor="end" fill="#111" stroke="#111" stroke-width="0.3" style="font-family:'Liberation Serif',serif" >30</text>
<text x="70.1" y="249.2" font-size="9.6" font-weight="bold" text-anchor="middle" letter-spacing="0.4" fill="#111" stroke="#111" stroke-width="0.3" style="font-family:'Liberation Serif',serif" >4000</text>
<text x="113.93" y="249.2" font-size="9.6" font-weight="bold" text-anchor="middle" letter-spacing="0.4" fill="#111" stroke="#111" stroke-width="0.3" style="font-family:'Liberation Serif',serif" >3500</text>
<text x="157.77" y="249.2" font-size="9.6" font-weight="bold" text-anchor="middle" letter-spacing="0.4" fill="#111" stroke="#111" stroke-width="0.3" style="font-family:'Liberation Serif',serif" >3000</text>
<text x="201.6" y="249.2" font-size="9.6" font-weight="bold" text-anchor="middle" letter-spacing="0.4" fill="#111" stroke="#111" stroke-width="0.3" style="font-family:'Liberation Serif',serif" >2500</text>
<text x="245.43" y="249.2" font-size="9.6" font-weight="bold" text-anchor="middle" letter-spacing="0.4" fill="#111" stroke="#111" stroke-width="0.3" style="font-family:'Liberation Serif',serif" >2000</text>
<text x="289.27" y="249.2" font-size="9.6" font-weight="bold" text-anchor="middle" letter-spacing="0.4" fill="#111" stroke="#111" stroke-width="0.3" style="font-family:'Liberation Serif',serif" >1500</text>
<text x="333.1" y="249.2" font-size="9.6" font-weight="bold" text-anchor="middle" letter-spacing="0.4" fill="#111" stroke="#111" stroke-width="0.3" style="font-family:'Liberation Serif',serif" >1000</text>
<text x="376.93" y="249.2" font-size="9.6" font-weight="bold" text-anchor="middle" letter-spacing="0.4" fill="#111" stroke="#111" stroke-width="0.3" style="font-family:'Liberation Serif',serif" >500</text>
<text x="461.2" y="61.900000000000006" font-size="9" font-weight="bold" text-anchor="end" fill="#111" stroke="#111" stroke-width="0.3" style="font-family:'Liberation Serif',serif" >40</text>
<text x="461.2" y="144.5" font-size="9" font-weight="bold" text-anchor="end" fill="#111" stroke="#111" stroke-width="0.3" style="font-family:'Liberation Serif',serif" >20</text>
<text x="461.2" y="226.29999999999998" font-size="9" font-weight="bold" text-anchor="end" fill="#111" stroke="#111" stroke-width="0.3" style="font-family:'Liberation Serif',serif" >0</text>
<text x="466.4" y="251.5" font-size="9.2" font-weight="bold" text-anchor="middle" fill="#111" stroke="#111" stroke-width="0.3" style="font-family:'Liberation Serif',serif" >4000</text>
<text x="509.38611111111106" y="251.5" font-size="9.2" font-weight="bold" text-anchor="middle" fill="#111" stroke="#111" stroke-width="0.3" style="font-family:'Liberation Serif',serif" >3500</text>
<text x="552.3722222222223" y="251.5" font-size="9.2" font-weight="bold" text-anchor="middle" fill="#111" stroke="#111" stroke-width="0.3" style="font-family:'Liberation Serif',serif" >3000</text>
<text x="595.3583333333333" y="251.5" font-size="9.2" font-weight="bold" text-anchor="middle" fill="#111" stroke="#111" stroke-width="0.3" style="font-family:'Liberation Serif',serif" >2500</text>
<text x="638.3444444444444" y="251.5" font-size="9.2" font-weight="bold" text-anchor="middle" fill="#111" stroke="#111" stroke-width="0.3" style="font-family:'Liberation Serif',serif" >2000</text>
<text x="681.3305555555555" y="251.5" font-size="9.2" font-weight="bold" text-anchor="middle" fill="#111" stroke="#111" stroke-width="0.3" style="font-family:'Liberation Serif',serif" >1500</text>
<text x="724.3166666666666" y="251.5" font-size="9.2" font-weight="bold" text-anchor="middle" fill="#111" stroke="#111" stroke-width="0.3" style="font-family:'Liberation Serif',serif" >1000</text>
<text x="767.3027777777777" y="251.5" font-size="9.2" font-weight="bold" text-anchor="middle" fill="#111" stroke="#111" stroke-width="0.3" style="font-family:'Liberation Serif',serif" >500</text>
<text transform="translate(35.1,140.5) rotate(-90)" font-size="13" font-weight="bold" letter-spacing="0.2" style="font-family:'Liberation Serif',serif" fill="#111" stroke="#111" stroke-width="0.3">T%</text>
<text transform="translate(440.9,146.9) rotate(-90)" font-size="11.2" font-weight="bold" letter-spacing="-0.4" style="font-family:'Liberation Serif',serif" fill="#111" stroke="#111" stroke-width="0.3">T%</text>
</svg>
</body></html>
